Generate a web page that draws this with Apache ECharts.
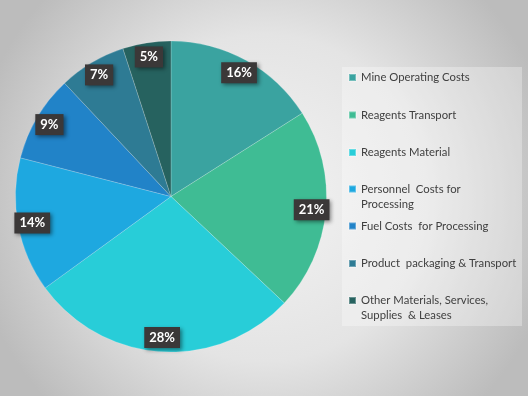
<!DOCTYPE html>
<html>
<head>
<meta charset="utf-8">
<script src="https://cdn.jsdelivr.net/npm/echarts@6/dist/echarts.min.js"></script>
<style>html,body{margin:0;padding:0;}#chart{width:528px;height:396px;}</style>
</head>
<body>
<div id="chart"></div>
<script>
var categories = ['Mine Operating Costs', 'Reagents Transport', 'Reagents Material', 'Personnel  Costs for Processing', 'Fuel Costs  for Processing', 'Product  packaging & Transport', 'Other Materials, Services, Supplies  & Leases'];
var legendLabels = ['Mine Operating Costs', 'Reagents Transport', 'Reagents Material', '\nPersonnel  Costs for\nProcessing', 'Fuel Costs  for Processing', 'Product  packaging & Transport', '\nOther Materials, Services,\nSupplies  & Leases'];
var values = [16, 21, 28, 14, 9, 7, 5];
var colors = ['#3aa3a0', '#3fbc94', '#28cdd8', '#1ea8e0', '#2183c8', '#2e7b94', '#26625f'];

var chart = echarts.init(document.getElementById('chart'), null, {renderer: 'canvas'});
var cx = 171, cy = 196.5, R = 155.5;
var legendCenters = [77.5, 115, 152.5, 189, 226, 263.5, 300.5];
var legends = categories.map(function (name, i) {
  var multi = legendLabels[i].indexOf('\n') >= 0;
  return {
    data: [name],
    left: 348,
    top: legendCenters[i] - (multi ? 22.5 : 7.5),
    padding: 0,
    icon: 'rect',
    itemWidth: 7,
    itemHeight: 7,
    selectedMode: false,
    formatter: function () { return legendLabels[i]; },
    textStyle: {fontFamily: 'Lato', fontSize: 11.3, color: '#404040', lineHeight: 15}
  };
});
var pieData = categories.map(function (n, i) {
  return {name: n, value: values[i], itemStyle: {color: colors[i]}};
});
var labelData = categories.map(function (n, i) {
  return {name: n, value: values[i]};
});
chart.setOption({
  backgroundColor: {
    type: 'radial', x: 0.5, y: 0.5, r: 0.75,
    colorStops: [{offset: 0, color: '#f3f3f3'}, {offset: 0.55, color: '#e4e4e4'}, {offset: 1, color: '#bcbcbc'}]
  },
  animation: false,
  graphic: [{
    type: 'rect', left: 342, top: 67, z: -1,
    shape: {width: 180, height: 259},
    style: {fill: 'rgba(255,255,255,0.3)'}
  }],
  legend: legends,
  series: [{
    type: 'pie',
    center: [cx, cy],
    radius: [0, R],
    startAngle: 90,
    clockwise: true,
    data: pieData,
    label: {show: false},
    labelLine: {show: false},
    itemStyle: {borderColor: 'rgba(255,255,255,0.3)', borderWidth: 0.6},
    emphasis: {disabled: true}
  }, {
    type: 'pie',
    center: [cx, cy],
    radius: [121, R],
    startAngle: 90,
    clockwise: true,
    silent: true,
    data: labelData,
    itemStyle: {color: 'rgba(0,0,0,0)'},
    label: {
      show: true,
      position: 'inside',
      formatter: '{c}%',
      color: '#ffffff',
      fontFamily: 'Lato',
      fontWeight: 'bold',
      fontSize: 13,
      lineHeight: 13,
      backgroundColor: '#3b3838',
      padding: [4, 5, 4, 5],
      shadowColor: 'rgba(0,0,0,0.45)',
      shadowBlur: 4,
      shadowOffsetX: 2,
      shadowOffsetY: 2
    },
    labelLine: {show: false},
    emphasis: {disabled: true}
  }]
});
</script>
</body>
</html>
